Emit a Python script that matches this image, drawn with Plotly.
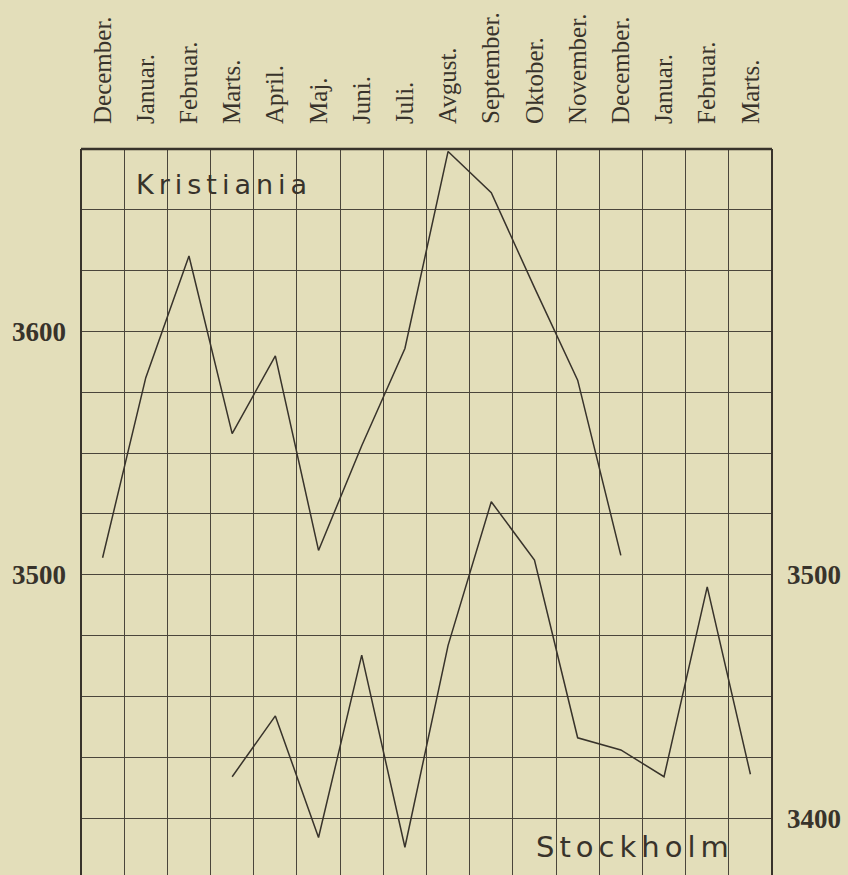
import plotly.graph_objects as go

months = ["December.", "Januar.", "Februar.", "Marts.", "April.", "Maj.", "Juni.", "Juli.",
          "Avgust.", "September.", "Oktober.", "November.", "December.", "Januar.",
          "Februar.", "Marts."]
kristiania = [3507, 3581, 3631, 3558, 3590, 3510, 3553, 3593, 3674, 3657, 3618, 3580, 3508,
              None, None, None]
stockholm = [None, None, None, 3417, 3442, 3392, 3467, 3388, 3471, 3530, 3506, 3433, 3428,
             3417, 3495, 3418]
left_ticks = [3500, 3600]
right_ticks = [3400, 3500]

BG = "#E3DEBA"
INK = "#38332b"
GRID = "#4a453b"
YR = [3376.6, 3675]
xs = list(range(len(months)))

fig = go.Figure()
fig.add_trace(go.Scatter(x=xs, y=kristiania, mode="lines", name="Kristiania",
                         line=dict(color=INK, width=1.5), connectgaps=False))
fig.add_trace(go.Scatter(x=xs, y=stockholm, mode="lines", name="Stockholm", yaxis="y2",
                         line=dict(color=INK, width=1.5), connectgaps=False))

fig.update_layout(
    width=848, height=875,
    paper_bgcolor=BG, plot_bgcolor=BG,
    margin=dict(l=81, r=76, t=149, b=0),
    showlegend=False,
    xaxis=dict(
        side="top", range=[-0.5, len(months) - 0.5], tickmode="array", tickvals=xs,
        ticktext=months, tickangle=-90, showgrid=False, zeroline=False, ticks="",
        ticklabelstandoff=24,
        tickfont=dict(family="Liberation Serif", size=25, color=INK),
        minor=dict(tickmode="linear", tick0=-0.5, dtick=1, showgrid=True,
                   gridcolor=GRID, gridwidth=1.2, ticks=""),
        showline=False,
    ),
    yaxis=dict(
        range=YR, tickmode="array", tickvals=left_ticks, ticktext=[str(v) for v in left_ticks],
        showgrid=True, gridcolor=GRID, gridwidth=1.2, zeroline=False, ticks="",
        ticklabelstandoff=14,
        tickfont=dict(family="Liberation Serif", size=27, color=INK, weight="bold"),
        minor=dict(tickmode="linear", tick0=3400, dtick=25, showgrid=True,
                   gridcolor=GRID, gridwidth=1.2, ticks=""),
    ),
    yaxis2=dict(
        range=YR, overlaying="y", side="right", tickmode="array", tickvals=right_ticks,
        ticktext=[str(v) for v in right_ticks], showgrid=False, zeroline=False, ticks="",
        ticklabelstandoff=14,
        tickfont=dict(family="Liberation Serif", size=27, color=INK, weight="bold"),
    ),
    shapes=[
        dict(type="line", xref="paper", yref="paper", x0=0, x1=1, y0=1, y1=1,
             line=dict(color=INK, width=2.5)),
        dict(type="line", xref="paper", yref="paper", x0=0, x1=0, y0=0, y1=1,
             line=dict(color=INK, width=2)),
        dict(type="line", xref="paper", yref="paper", x0=1, x1=1, y0=0, y1=1,
             line=dict(color=INK, width=2)),
    ],
    annotations=[
        dict(xref="paper", yref="paper", x=0.076, y=0.951, xanchor="left", yanchor="middle",
             text='<span style="letter-spacing:5px">Kristiania</span>', showarrow=False,
             font=dict(family="DejaVu Sans ExtraLight, DejaVu Sans", size=27, color=INK)),
        dict(xref="paper", yref="paper", x=0.655, y=0.039, xanchor="left", yanchor="middle",
             text='<span style="letter-spacing:5px">Stockholm</span>', showarrow=False,
             font=dict(family="DejaVu Sans ExtraLight, DejaVu Sans", size=29, color=INK)),
    ],
)

fig.write_html("out.html", config={"displayModeBar": False},
               post_script="document.body.style.margin='0';document.body.style.overflow='hidden';")
